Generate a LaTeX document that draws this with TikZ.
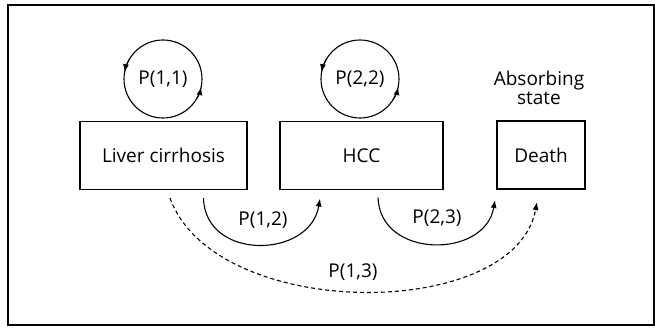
\documentclass[tikz,border=0pt]{standalone}
\usepackage{fontspec}
\setmainfont{Open Sans}
\usetikzlibrary{arrows.meta}

\begin{document}
\begin{tikzpicture}
  [x=1pt,y=1pt,line width=1.1pt,>={Latex[length=8pt,width=6pt]},
   every node/.style={font=\fontsize{19}{19}\selectfont},
   box/.style={draw,rectangle,minimum height=68},
   loopring/.style={draw,circle,minimum size=78,inner sep=0,outer sep=0}]

  \useasboundingbox (0,0) rectangle (655,327);
  \draw (8,2) rectangle (654,322);

  \node[box,minimum width=167] (lc) at (163.5,171.5) {Liver cirrhosis};
  \node[box,minimum width=163] (hcc) at (361.5,171.5) {HCC};
  \node[box,minimum width=88] (death) at (541,172) {Death};
  \node[align=center] (abs) at (539,239) {Absorbing\\state};

  \node[loopring] (l11) at (163,248) {P(1,1)};
  \node[loopring] (l22) at (360,248) {P(2,2)};

  \draw[->] (l11.150) arc (150:170:39);
  \draw[->] (l11.-32) arc (-32:-12:39);
  \draw[->] (l22.150) arc (150:170:39);
  \draw[->] (l22.-32) arc (-32:-12:39);

  \draw[->] ([xshift=40,yshift=-8]lc.south) .. controls (205,66) and (310,68) .. ([xshift=-41.5,yshift=-8.5]hcc.south);
  \draw[->] ([xshift=16.5,yshift=-7.5]hcc.south) .. controls (380,68) and (485,68) .. ([xshift=-46,yshift=-10.5]death.south);
  \draw[->,dash pattern=on 4pt off 3pt] ([xshift=6.5,yshift=-8]lc.south) .. controls (215,5) and (515,5) .. ([xshift=-4,yshift=-12.5]death.south);

  \node (p12) at (263,107) {P(1,2)};
  \node (p23) at (437,109) {P(2,3)};
  \node (p13) at (353,55) {P(1,3)};

\end{tikzpicture}
\end{document}
